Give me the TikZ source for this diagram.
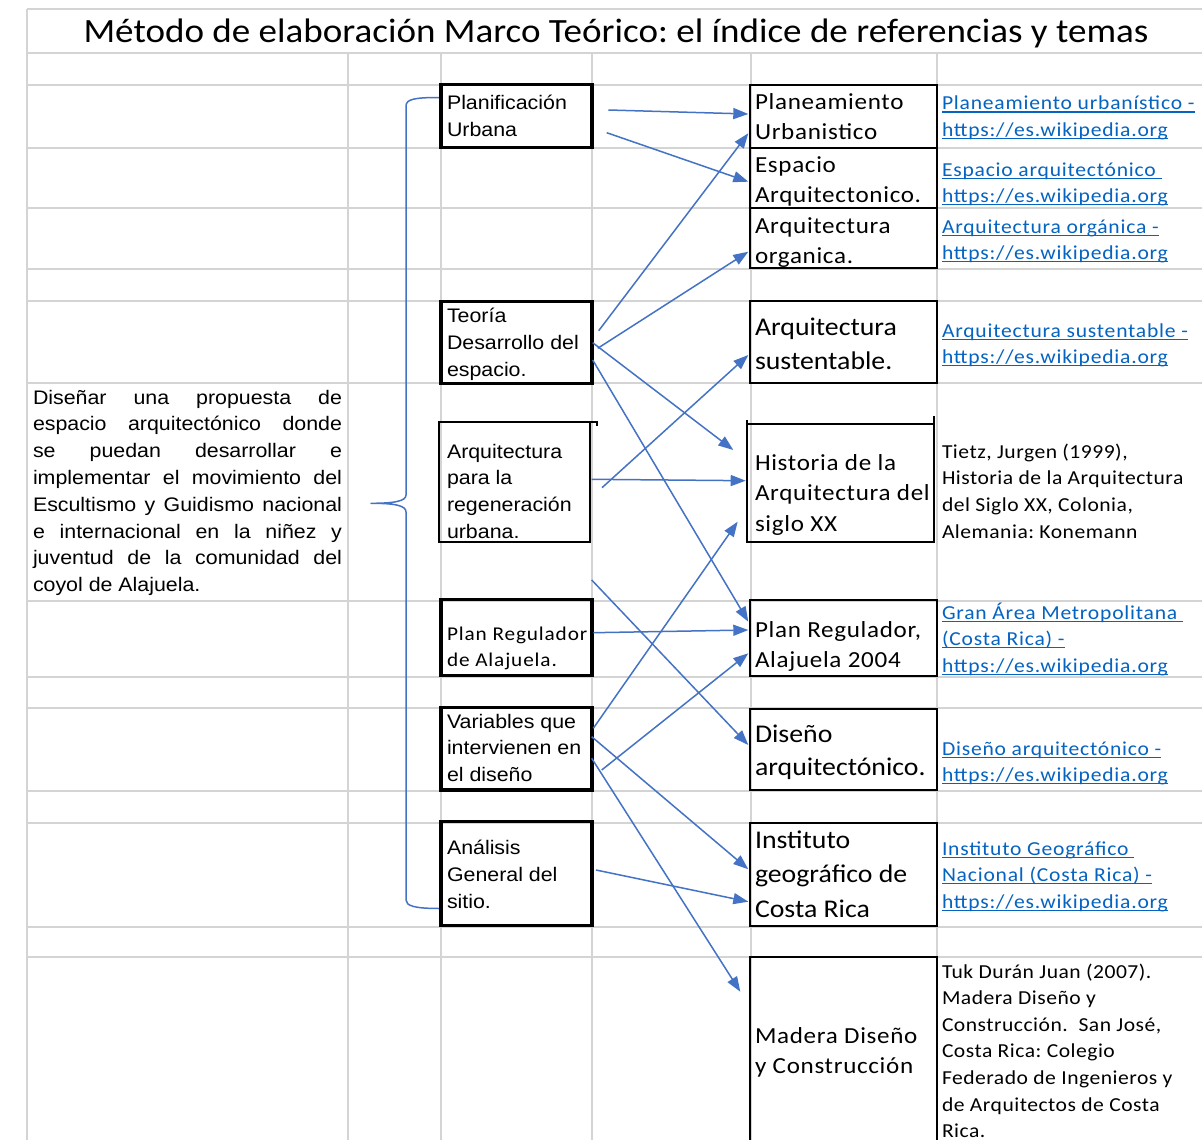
\documentclass[tikz,border=0pt]{standalone}
\usepackage{fontspec}
\setmainfont{Carlito}[FakeStretch=1.09]
\newfontfamily\arialf{Liberation Sans}[FakeStretch=1.09]
\newfontfamily\calsp{Carlito}[FakeStretch=1.09,LetterSpace=3]
\newfontfamily\calspc{Carlito}[FakeStretch=1.09,LetterSpace=4.5]
\newfontfamily\calref{Carlito}[FakeStretch=1.09,LetterSpace=2.5]
\newfontfamily\callink{Carlito}[FakeStretch=1.09,LetterSpace=4]
\usetikzlibrary{arrows.meta,calc}
\definecolor{gridc}{HTML}{D4D4D4}
\definecolor{arrc}{HTML}{4472C4}
\definecolor{linkc}{HTML}{0563C1}
\frenchspacing
\newcommand\vt[2]{\vtop{\let\\\cr\baselineskip=#1pt\relax\lineskiplimit=-\maxdimen\lineskip=0pt\relax\halign{##\hfil\cr#2\crcr}}}
\newcommand\lk[1]{\setbox0=\hbox{#1}\rlap{\rule[-2.8pt]{\wd0}{1.3pt}}\box0}
\newcommand\jl[1]{\makebox[309pt][s]{#1}}
\tikzset{
  gridln/.style={draw=gridc,line width=2pt},
  boxc/.style={draw=black,line width=3.4pt,anchor=north west,inner sep=0pt,outer sep=0pt,minimum width=151pt},
  boxr/.style={draw=black,line width=2pt,anchor=north west,inner sep=0pt,outer sep=0pt,minimum width=187pt},
  boxt/.style={draw=black,line width=1.3pt,anchor=north west,inner sep=0pt,outer sep=0pt},
  thinln/.style={draw=black,line width=1.3pt},
  txt/.style={anchor=base west,inner sep=0pt,outer sep=0pt},
  colA/.style={txt,font=\arialf\frenchspacing\fontsize{19.6}{26}\selectfont},
  colAc/.style={txt,font=\calspc\frenchspacing\fontsize{19.5}{26}\selectfont},
  colB/.style={txt,font=\calsp\frenchspacing\fontsize{23}{30}\selectfont},
  colBn/.style={txt,font=\rmfamily\frenchspacing\fontsize{25.5}{33}\selectfont},
  colR/.style={txt,font=\calref\frenchspacing\fontsize{19.8}{26.6}\selectfont},
  linktxt/.style={txt,text=linkc,font=\callink\frenchspacing\fontsize{19.8}{26.6}\selectfont},
  arr/.style={draw=arrc,line width=1.5pt,-{Triangle[length=15pt,width=11pt]}},
  bracel/.style={draw=arrc,line width=1.5pt,line join=round},
}
\begin{document}
\begin{tikzpicture}[x=1pt,y=-1pt]
\fill[white] (0,0) rectangle (1202,1140);
\useasboundingbox (0,0) rectangle (1202,1140);
% spreadsheet grid
\foreach \yy in {9,53,85,148,208,269,301,383,601,677,708,791,823,927,957}
  \draw[gridln] (27,\yy) -- (1202,\yy);
\draw[gridln] (27,9) -- (27,1140);
\foreach \xx in {348,441,592,750.5,937}
  \draw[gridln] (\xx,53) -- (\xx,1140);
% title
\node[anchor=base,inner sep=0pt,font=\frenchspacing\fontsize{34}{40}\selectfont] (title) at (616,42.3)
  {Método de elaboración Marco Teórico: el índice de referencias y temas};
% goal text
\node[colA] (goal) at (33,404) {\vt{26.8}{%
\jl{Diseñar una propuesta de}\\
\jl{espacio arquitectónico donde}\\
\jl{se puedan desarrollar e}\\
\jl{implementar el movimiento del}\\
\jl{Escultismo y Guidismo nacional}\\
\jl{e internacional en la niñez y}\\
\jl{juventud de la comunidad del}\\
coyol de Alajuela.}};
% brace
\draw[bracel] (440,97.5) .. controls (415,97.5) and (406,99) .. (406,106)
  -- (406,495) .. controls (406,501) and (395,503.3) .. (371,503.3)
  .. controls (395,503.3) and (406,505.5) .. (406,512)
  -- (406,900) .. controls (406,906) and (415,908.5) .. (440,908.5);
% column 3 boxes
\node[boxc,minimum height=63pt] (planif) at (441,84.5) {};
\node[boxc,minimum height=81.6pt] (teoria) at (441,301.7) {};
\node[boxt,minimum width=151pt,minimum height=120pt] (arqreg) at (439,422) {};
\draw[thinln] (arqreg.north east) -- ++(7,0) -- ++(0,4);
\node[boxc,minimum height=76pt] (planreg) at (441,599.5) {};
\node[boxc,minimum height=82.3pt] (variables) at (441,707.7) {};
\node[boxc,minimum height=104pt] (analisis) at (441,821.7) {};
\node[colA] (planif-t) at (447,110) {\vt{26}{Planificación\\Urbana}};
\node[colA] (teoria-t) at (447,322) {\vt{27}{Teoría\\Desarrollo del\\espacio.}};
\node[colA] (arqreg-t) at (447,458) {\vt{26.7}{Arquitectura\\para la\\regeneración\\urbana.}};
\node[colAc] (planreg-t) at (447,640) {\vt{26}{Plan Regulador\\de Alajuela.}};
\node[colA] (variables-t) at (447,728) {\vt{26.5}{Variables que\\intervienen en\\el diseño}};
\node[colA] (analisis-t) at (447,854) {\vt{27}{Análisis\\General del\\sitio.}};
% column 5 boxes
\node[boxr,minimum height=62.7pt] (planeam) at (749.5,85) {};
\node[boxr,minimum height=60.6pt] (espacio) at (749.5,147.7) {};
\node[boxr,minimum height=60pt] (organica) at (749.5,208.3) {};
\node[boxr,minimum height=82.6pt] (sustent) at (749.5,300.7) {};
\node[boxt,minimum width=187pt,minimum height=118pt] (historia) at (747,424) {};
\draw[thinln] (historia.north west) -- ++(0,-4);
\draw[thinln] (historia.north east) -- ++(0,-8);
\node[boxr,minimum height=76pt] (planreg04) at (749.5,600) {};
\node[boxr,minimum height=80.7pt] (diseno) at (749.5,709.3) {};
\node[boxr,minimum height=103pt] (instituto) at (749.5,822.7) {};
\node[boxr,minimum height=250pt] (madera) at (749.5,957.3) {};
\node[colB] (planeam-t) at (755,110) {\vt{30}{Planeamiento\\Urbanistico}};
\node[colB] (espacio-t) at (755,172) {\vt{30}{Espacio\\Arquitectonico.}};
\node[colB] (organica-t) at (755,233) {\vt{30}{Arquitectura\\organica.}};
\node[colBn] (sustent-t) at (755,335) {\vt{34}{Arquitectura\\sustentable.}};
\node[colB] (historia-t) at (755,470) {\vt{30.5}{Historia de la\\Arquitectura del\\siglo XX}};
\node[colB] (planreg04-t) at (755,637) {\vt{30}{Plan Regulador,\\Alajuela 2004}};
\node[colBn] (diseno-t) at (755,742) {\vt{33}{Diseño\\arquitectónico.}};
\node[colBn] (instituto-t) at (755,848) {\vt{34.5}{Instituto\\geográfico de\\Costa Rica}};
\node[colB] (madera-t) at (755,1043) {\vt{30}{Madera Diseño\\y Construcción}};
% column 6 references
\node[linktxt] (ref1) at (942,110) {\vt{26.5}{\lk{Planeamiento urbanístico -}\\\lk{https://es.wikipedia.org}}};
\node[linktxt] (ref2) at (942,176) {\vt{26.5}{\lk{Espacio arquitectónico\ }\\\lk{https://es.wikipedia.org}}};
\node[linktxt] (ref3) at (942,233) {\vt{26.5}{\lk{Arquitectura orgánica -}\\\lk{https://es.wikipedia.org}}};
\node[linktxt] (ref4) at (942,337) {\vt{26.5}{\lk{Arquitectura sustentable -}\\\lk{https://es.wikipedia.org}}};
\node[colR] (ref5) at (942,458) {\vt{26.7}{Tietz, Jurgen (1999),\\Historia de la Arquitectura\\del Siglo XX, Colonia,\\Alemania: Konemann}};
\node[linktxt] (ref6) at (942,619) {\vt{26.5}{\lk{Gran Área Metropolitana\ }\\\lk{(Costa Rica) -}\\\lk{https://es.wikipedia.org}}};
\node[linktxt] (ref7) at (942,755) {\vt{26.5}{\lk{Diseño arquitectónico -}\\\lk{https://es.wikipedia.org}}};
\node[linktxt] (ref8) at (942,855) {\vt{26.5}{\lk{Instituto Geográfico\ }\\\lk{Nacional (Costa Rica) -}\\\lk{https://es.wikipedia.org}}};
\node[colR] (ref9) at (942,978) {\vt{26.6}{Tuk Durán Juan (2007).\\Madera Diseño y\\Construcción.\ \ San José,\\Costa Rica: Colegio\\Federado de Ingenieros y\\de Arquitectos de Costa\\Rica.}};
% connectors
\draw[arr] ($(planif.north east)+(16.3,25.5)$) -- ($(planeam.north west)+(-1.2,29)$);
\draw[arr] ($(planif.north east)+(14.7,48.2)$) -- ($(espacio.north west)+(-1.2,34)$);
\draw[arr] ($(teoria.north east)+(6.7,29)$) -- ($(planeam.north west)+(-1.2,48.3)$);
\draw[arr] ($(teoria.north east)+(5.7,46.6)$) -- ($(organica.north west)+(-1.2,43.4)$);
\draw[arr] ($(teoria.north east)+(0.7,41)$) -- ($(historia.north west)+(-13.7,26)$);
\draw[arr] ($(teoria.north east)+(0.7,58.3)$) -- ($(planreg04.north west)+(-1.2,21.7)$);
\draw[arr] ($(arqreg.north east)+(12,65.7)$) -- ($(sustent.north west)+(-1.2,54.3)$);
\draw[arr] ($(arqreg.north east)+(1.7,57.3)$) -- ($(historia.north west)+(-1.3,56.7)$);
\coordinate (freestart) at (591.7,580);
\draw[arr] (freestart) -- ($(diseno.north west)+(-1.2,35.7)$);
\draw[arr] ($(planreg.north east)+(1.3,33.2)$) -- ($(planreg04.north west)+(-1.2,30)$);
\draw[arr] ($(variables.north east)+(1.3,20.6)$) -- ($(historia.north west)+(-9.3,97.7)$);
\draw[arr] ($(variables.north east)+(9.7,62.3)$) -- ($(planreg04.north west)+(-1.2,53.3)$);
\draw[arr] ($(variables.north east)+(-0.3,29)$) -- ($(instituto.north west)+(-1.2,46.6)$);
\draw[arr] ($(variables.north east)+(-0.3,50.6)$) -- ($(madera.north west)+(-9.2,34.4)$);
\draw[arr] ($(analisis.north east)+(4,48.3)$) -- ($(instituto.north west)+(-1.2,79)$);
\end{tikzpicture}
\end{document}
